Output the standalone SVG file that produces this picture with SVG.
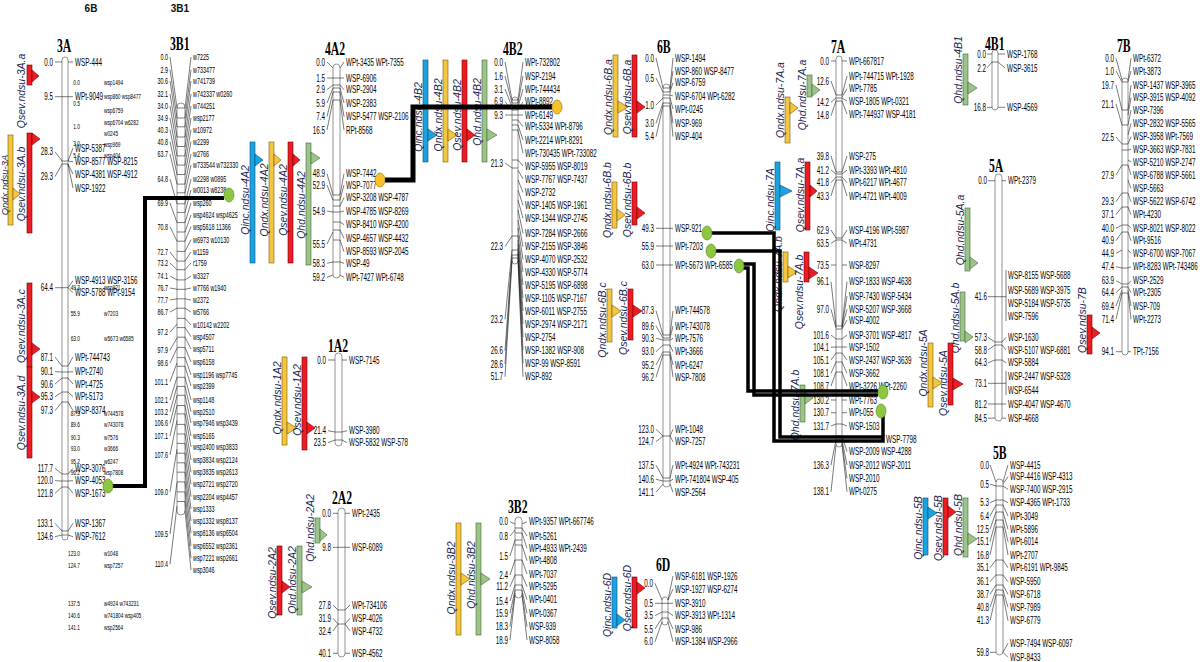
<svg xmlns="http://www.w3.org/2000/svg" width="1200" height="662" viewBox="0 0 1200 662">
<style>
.chr{fill:#fff;stroke:#777;stroke-width:.8}
.fan{fill:none;stroke:#222;stroke-width:.6}
.n text,.l text{font-family:"Liberation Sans",Arial,sans-serif;font-size:10.5px;fill:#000;dominant-baseline:central}
.n text{text-anchor:end}
.s text{font-size:9px}
.gh text{font-size:8px}
.ttl{font-family:"Liberation Serif","Times New Roman",serif;font-weight:bold;font-size:18px;fill:#000}
.top{font-family:"Liberation Sans",Arial,sans-serif;font-weight:bold;font-size:10px;fill:#111;text-anchor:middle}
.q{font-family:"Liberation Sans",Arial,sans-serif;font-style:italic;font-size:10.5px;fill:#1a2550;text-anchor:middle}
.r{fill:#ec1c24;stroke:#7a0000;stroke-width:.6}
.y{fill:#f4c542;stroke:#7a5a00;stroke-width:.6}
.b{fill:#1aa3e0;stroke:#0b4f75;stroke-width:.6}
.g{fill:#9dc38a;stroke:#3f6b30;stroke-width:.6}
.con{fill:none;stroke:#000;stroke-width:4}
.dg{fill:#8dc63f;stroke:#5a8a26;stroke-width:.6}
.dy{fill:#f7c12c;stroke:#9a7000;stroke-width:.6}
</style>
<rect width="1200" height="662" fill="#fff"/>
<text class="top" x="91" y="12">6B</text>
<text class="top" x="180" y="12">3B1</text>

<g id="chr-3A">
<text class="ttl" transform="translate(57 52) scale(.65 1)">3A</text>
<rect class="chr" x="62" y="57" width="6" height="483" rx="3"/>
<path class="fan" d="M55 62H62M55 96.7H62M55 151.7L62 161M55 176.7L62 164M55 287.7H62M55 357L62 366M55 371.7L62 372M55 384L62 378M55 396.7L62 392M55 410.7L62 402M55 468.3L62 474M55 480.7L62 481M55 493.3L62 487M55 523.3L62 531M55 536.7L62 535M68 62H73M68 96.7H73M68 161L73 148M68 161L73 161.7M68 164L73 174M68 164L73 188M68 287.7L73 280.7M68 287.7L73 292.7M68 366L73 357M68 372L73 371.7M68 378L73 384M68 392L73 396.7M68 402L73 410.7M68 474L73 468.3M68 481L73 480.7M68 487L73 493.3M68 531L73 523.3M68 535L73 536.7M62 96.7H68M62 161H68M62 164H68M62 287.7H68M62 366H68M62 372H68M62 378H68M62 392H68M62 402H68M62 474H68M62 481H68M62 487H68M62 531H68M62 535H68"/>
<g class="n" transform="translate(53 0) scale(.6 1)"><text y="62">0.0</text><text y="96.7">9.5</text><text y="151.7">28.3</text><text y="176.7">29.3</text><text y="287.7">64.4</text><text y="357">87.1</text><text y="371.7">90.1</text><text y="384">90.6</text><text y="396.7">95.3</text><text y="410.7">97.3</text><text y="468.3">117.7</text><text y="480.7">120.0</text><text y="493.3">121.8</text><text y="523.3">133.1</text><text y="536.7">134.6</text></g>
<g class="l" transform="translate(75 0) scale(.6 1)"><text y="62">WSP-444</text><text y="96.7">WPt-9049</text><text y="148">WSP-5387</text><text y="161.7">WSP-8577 WSP-8215</text><text y="174">WSP-4381 WSP-4912</text><text y="188">WSP-1922</text><text y="280.7">WSP-4913 WSP-3156</text><text y="292.7">WSP-5788 WPt-9154</text><text y="357">WPt-744743</text><text y="371.7">WPt-2740</text><text y="384">WPt-4725</text><text y="396.7">WPt-5173</text><text y="410.7">WSP-8374</text><text y="468.3">WSP-3076</text><text y="480.7">WSP-4053</text><text y="493.3">WSP-1673</text><text y="523.3">WSP-1367</text><text y="536.7">WSP-7612</text></g>
<g class="n gh" transform="translate(80 0) scale(.6 1)"><text y="82">0.0</text><text y="103">0.5</text><text y="126">1.0</text><text y="143">3.0</text><text y="155">5.4</text><text y="287">49.3</text><text y="313">55.9</text><text y="338">63.0</text><text y="413">87.3</text><text y="424">89.6</text><text y="437">90.3</text><text y="448">93.0</text><text y="461">95.2</text><text y="472">96.2</text><text y="553">123.0</text><text y="565">124.7</text><text y="603">137.5</text><text y="615">140.6</text><text y="627">141.1</text></g>
<g class="l gh" transform="translate(104 0) scale(.6 1)"><text y="82">wsp1494</text><text y="96">wsp860 wsp8477</text><text y="110">wsp6759</text><text y="122">wsp6704 w6282</text><text y="133">w0245</text><text y="144">wsp969</text><text y="155">wsp404</text><text y="287">wsp921</text><text y="313">w7203</text><text y="338">w5673 w6585</text><text y="413">w744578</text><text y="424">w743078</text><text y="437">w7576</text><text y="448">w3666</text><text y="461">w6247</text><text y="472">wsp7808</text><text y="553">w1048</text><text y="565">wsp7257</text><text y="603">w4924 w743231</text><text y="615">w741804 wsp405</text><text y="627">wsp2564</text></g>
</g>

<g id="chr-3B1">
<text class="ttl" transform="translate(170 50) scale(.65 1)">3B1</text>
<rect class="chr" x="177" y="103" width="8" height="412" rx="4"/>
<path class="fan" d="M170 57L177 108M170 69.7L177 118M170 81L177 126.8M170 94L177 137M170 106L177 146.5M170 118L177 155.9M170 129.7L177 165.1M170 141.7L177 174.5M170 154L177 184.1M170 179L177 203.8M170 203L177 222.6M170 226.7L177 241.2M170 252L177 261.1M170 263L177 269.7M170 276L177 279.9M170 288L177 289.3M170 300L177 298.8M170 312L177 308.2M170 332.3L177 324.1M170 350L177 338M170 363L177 348.2M170 381.7L177 362.9M170 400L177 377.3M170 411.7L177 386.4M170 423.3L177 395.6M170 436L177 405.5M170 455L177 420.4M170 491.7L177 449.2M170 534L177 482.4M170 564.3L177 506.2M185 108L191 57M185 118L191 69.7M185 126.8L191 81M185 137L191 94M185 146.5L191 106M185 155.9L191 118M185 165.1L191 129.7M185 174.5L191 141.7M185 184.1L191 154M185 192.8L191 165M185 203.8L191 179M185 212.4L191 190M185 222.6L191 203M185 232L191 215M185 241.2L191 226.7M185 251.4L191 239.7M185 261.1L191 252M185 269.7L191 263M185 279.9L191 276M185 289.3L191 288M185 298.8L191 300M185 308.2L191 312M185 318.4L191 325M185 327.6L191 336.7M185 337.2L191 349M185 347.4L191 362M185 357.6L191 375M185 366.3L191 386M185 377.3L191 400M185 386.4L191 411.7M185 395.3L191 423M185 405.5L191 436M185 413.9L191 446.7M185 424.4L191 460M185 434L191 472.3M185 443.4L191 484.3M185 453.2L191 496.7M185 462.8L191 509M185 472.2L191 521M185 481.9L191 533.3M185 491.9L191 546M185 501.5L191 558.3M185 510.7L191 570M177 108H185M177 118H185M177 126.8H185M177 137H185M177 146.5H185M177 155.9H185M177 165.1H185M177 174.5H185M177 184.1H185M177 192.8H185M177 203.8H185M177 212.4H185M177 222.6H185M177 232H185M177 241.2H185M177 251.4H185M177 261.1H185M177 269.7H185M177 279.9H185M177 289.3H185M177 298.8H185M177 308.2H185M177 318.4H185M177 327.6H185M177 337.2H185M177 347.4H185M177 357.6H185M177 366.3H185M177 377.3H185M177 386.4H185M177 395.3H185M177 405.5H185M177 413.9H185M177 424.4H185M177 434H185M177 443.4H185M177 453.2H185M177 462.8H185M177 472.2H185M177 481.9H185M177 491.9H185M177 501.5H185"/>
<g class="n s" transform="translate(168 0) scale(.6 1)"><text y="57">0.0</text><text y="69.7">2.9</text><text y="81">30.6</text><text y="94">32.1</text><text y="106">34.0</text><text y="118">34.9</text><text y="129.7">40.3</text><text y="141.7">40.8</text><text y="154">63.7</text><text y="179">64.8</text><text y="203">69.9</text><text y="226.7">70.8</text><text y="252">72.7</text><text y="263">73.2</text><text y="276">74.1</text><text y="288">76.7</text><text y="300">77.7</text><text y="312">86.7</text><text y="332.3">97.2</text><text y="350">97.9</text><text y="363">98.6</text><text y="381.7">101.1</text><text y="400">102.1</text><text y="411.7">103.2</text><text y="423.3">106.6</text><text y="436">107.1</text><text y="455">107.6</text><text y="491.7">109.0</text><text y="534">109.5</text><text y="564.3">110.4</text></g>
<g class="l s" transform="translate(193 0) scale(.6 1)"><text y="57">w7225</text><text y="69.7">w733477</text><text y="81">w741739</text><text y="94">w742337 w0260</text><text y="106">w744251</text><text y="118">wsp2177</text><text y="129.7">w10972</text><text y="141.7">w2299</text><text y="154">w2766</text><text y="165">w733544 w732330</text><text y="179">w2298 w0895</text><text y="190">w0013 w8238</text><text y="203">wsp260</text><text y="215">wsp4624 wsp4625</text><text y="226.7">wsp5618 11366</text><text y="239.7">w6973 w10130</text><text y="252">w1159</text><text y="263">r1759</text><text y="276">w3327</text><text y="288">w7766 w1940</text><text y="300">w2372</text><text y="312">w5766</text><text y="325">w10142 w2202</text><text y="336.7">wsp4507</text><text y="349">wsp5711</text><text y="362">wsp6158</text><text y="375">wsp1196 wsp7745</text><text y="386">wsp2399</text><text y="400">wsp1148</text><text y="411.7">wsp2510</text><text y="423">wsp7946 wsp3439</text><text y="436">wsp5165</text><text y="446.7">wsp2400 wsp3833</text><text y="460">wsp3834 wsp2124</text><text y="472.3">wsp3835 wsp2613</text><text y="484.3">wsp2721 wsp2720</text><text y="496.7">wsp2204 wsp4457</text><text y="509">wsp1333</text><text y="521">wsp1332 wsp8137</text><text y="533.3">wsp8136 wsp6504</text><text y="546">wsp6552 wsp2361</text><text y="558.3">wsp7221 wsp2661</text><text y="570">wsp3046</text></g>
</g>

<g id="chr-4A2">
<text class="ttl" transform="translate(325 55) scale(.65 1)">4A2</text>
<rect class="chr" x="333" y="64" width="7" height="214" rx="3.5"/>
<path class="fan" d="M327 62L333 68M327 78H333M327 89.7L333 85M327 103L333 88M327 116.7L333 92M327 130L333 100M327 173.7L333 195M327 185L333 200M327 211L333 212M327 244L333 232M327 263.3L333 262M327 277.3L333 275M340 68L344 62M340 78H344M340 85L344 89.7M340 88L344 103M340 92L344 116.7M340 100L344 130M340 195L344 173.7M340 200L344 185M340 206L344 197.7M340 212L344 211M340 222L344 224.7M340 230L344 238.3M340 240L344 251.7M340 262L344 263.3M340 275L344 277.3M333 78H340M333 85H340M333 88H340M333 92H340M333 100H340M333 195H340M333 200H340M333 206H340M333 212H340M333 222H340M333 230H340M333 240H340M333 262H340"/>
<g class="n" transform="translate(325 0) scale(.6 1)"><text y="62">0.0</text><text y="78">1.5</text><text y="89.7">2.9</text><text y="103">5.9</text><text y="116.7">7.4</text><text y="130">16.5</text><text y="173.7">48.9</text><text y="185">52.9</text><text y="211">54.9</text><text y="244">55.5</text><text y="263.3">58.3</text><text y="277.3">59.2</text></g>
<g class="l" transform="translate(346 0) scale(.6 1)"><text y="62">WPt-3435 WPt-7355</text><text y="78">WSP-6906</text><text y="89.7">WSP-2904</text><text y="103">WSP-2383</text><text y="116.7">WSP-5477 WSP-2106</text><text y="130">RPt-8568</text><text y="173.7">WSP-7442</text><text y="185">WSP-7077</text><text y="197.7">WSP-3208 WSP-4787</text><text y="211">WSP-4785 WSP-8269</text><text y="224.7">WSP-8410 WSP-4200</text><text y="238.3">WSP-4657 WSP-4432</text><text y="251.7">WSP-8593 WSP-2045</text><text y="263.3">WSP-49</text><text y="277.3">WPt-7427 WPt-6748</text></g>
</g>

<g id="chr-4B2">
<text class="ttl" transform="translate(503 55) scale(.65 1)">4B2</text>
<rect class="chr" x="512" y="97" width="6" height="167" rx="3"/>
<path class="fan" d="M505 62L512 100M505 76L512 103M505 89L512 107M505 101.7L512 110M505 115H512M505 163L512 168M505 246.7L512 236M505 319.3L512 250M505 350.7L512 255M505 364L512 258M505 376.7L512 261M518 100L523 62M518 103L523 76M518 107L523 89M518 110L523 101.7M518 115H523M518 120L523 126.7M518 125L523 140M518 130L523 153.3M518 160L523 166M518 170L523 179M518 180L523 192.3M518 190L523 205.3M518 200L523 218.3M518 210L523 233.3M518 220L523 246.7M518 228L523 259.3M518 235L523 272M518 240L523 285M518 244L523 298M518 248L523 311M518 251L523 324M518 253L523 337M518 255L523 350M518 258L523 363.3M518 261L523 376.7M512 100H518M512 103H518M512 107H518M512 110H518M512 115H518M512 120H518M512 125H518M512 130H518M512 160H518M512 168H518M512 236H518M512 250H518M512 255H518M512 258H518"/>
<g class="n" transform="translate(503 0) scale(.6 1)"><text y="62">0.0</text><text y="76">1.6</text><text y="89">3.1</text><text y="101.7">6.9</text><text y="115">9.3</text><text y="163">21.3</text><text y="246.7">22.3</text><text y="319.3">23.2</text><text y="350.7">26.6</text><text y="364">28.6</text><text y="376.7">51.7</text></g>
<g class="l" transform="translate(525 0) scale(.6 1)"><text y="62">WPt-732802</text><text y="76">WSP-2194</text><text y="89">WPt-744434</text><text y="101.7">WPt-8892</text><text y="115">WPt-6149</text><text y="126.7">WPt-5334 WPt-8796</text><text y="140">WPt-2214 WPt-8291</text><text y="153.3">WPt-730435 WPt-733082</text><text y="166">WSP-5955 WSP-8019</text><text y="179">WSP-7767 WSP-7437</text><text y="192.3">WSP-2732</text><text y="205.3">WSP-1405 WSP-1961</text><text y="218.3">WSP-1344 WSP-2745</text><text y="233.3">WSP-7284 WSP-2666</text><text y="246.7">WSP-2155 WSP-3846</text><text y="259.3">WSP-4070 WSP-2532</text><text y="272">WSP-4330 WSP-5774</text><text y="285">WSP-5195 WSP-6898</text><text y="298">WSP-1105 WSP-7167</text><text y="311">WSP-6011 WSP-2755</text><text y="324">WSP-2974 WSP-2171</text><text y="337">WSP-2754</text><text y="350">WSP-1382 WSP-908</text><text y="363.3">WSP-99 WSP-8591</text><text y="376.7">WSP-892</text></g>
</g>

<g id="chr-1A2">
<text class="ttl" transform="translate(328 352) scale(.65 1)">1A2</text>
<rect class="chr" x="335" y="353" width="7" height="93" rx="3.5"/>
<path class="fan" d="M328 360H335M328 430.7L335 432M328 442.7L335 440M342 360H347M342 432L347 430.7M342 440L347 442.7M335 432H342M335 440H342"/>
<g class="n" transform="translate(326 0) scale(.6 1)"><text y="360">0.0</text><text y="430.7">21.4</text><text y="442.7">23.5</text></g>
<g class="l" transform="translate(349 0) scale(.6 1)"><text y="360">WSP-7145</text><text y="430.7">WSP-3980</text><text y="442.7">WSP-5832 WSP-578</text></g>
</g>

<g id="chr-2A2">
<text class="ttl" transform="translate(332 504) scale(.65 1)">2A2</text>
<rect class="chr" x="338" y="508" width="7" height="149" rx="3.5"/>
<path class="fan" d="M333 513.3H338M333 547.3H338M333 605L338 610M333 618.3L338 624M333 631L338 624M333 653.3H338M345 513.3H350M345 547.3H350M345 610L350 605M345 624L350 618.3M345 624L350 631M345 653.3H350M338 547.3H345M338 610H345M338 624H345"/>
<g class="n" transform="translate(331 0) scale(.6 1)"><text y="513.3">0.0</text><text y="547.3">9.8</text><text y="605">27.8</text><text y="618.3">31.9</text><text y="631">32.4</text><text y="653.3">40.1</text></g>
<g class="l" transform="translate(352 0) scale(.6 1)"><text y="513.3">WPt-2435</text><text y="547.3">WSP-6089</text><text y="605">WPt-734106</text><text y="618.3">WSP-4026</text><text y="631">WSP-4732</text><text y="653.3">WSP-4562</text></g>
</g>

<g id="chr-3B2">
<text class="ttl" transform="translate(508 513) scale(.65 1)">3B2</text>
<rect class="chr" x="515" y="517" width="7" height="81" rx="3.5"/>
<path class="fan" d="M510 521.7L515 524M510 536L515 530M510 556L515 540M510 575L515 560M510 586.7L515 575M510 601L515 585M510 613.3L515 590M510 626.7L515 593M510 640L515 595M522 524L527 521.7M522 528L527 536M522 533L527 548.3M522 545L527 560.7M522 560L527 574M522 575L527 586.7M522 585L527 599.7M522 590L527 613.3M522 593L527 626.7M522 595L527 640M515 528H522M515 533H522M515 540H522M515 545H522M515 560H522M515 575H522M515 585H522M515 590H522"/>
<g class="n" transform="translate(508 0) scale(.6 1)"><text y="521.7">0.0</text><text y="536">0.8</text><text y="556">1.5</text><text y="575">2.4</text><text y="586.7">11.2</text><text y="601">15.4</text><text y="613.3">15.9</text><text y="626.7">18.3</text><text y="640">18.9</text></g>
<g class="l" transform="translate(529 0) scale(.6 1)"><text y="521.7">WPt-9357 WPt-667746</text><text y="536">WPt-5261</text><text y="548.3">WPt-4933 WPt-2439</text><text y="560.7">WPt-4808</text><text y="574">WPt-7037</text><text y="586.7">WPt-5295</text><text y="599.7">WPt-0401</text><text y="613.3">WPt-0367</text><text y="626.7">WSP-939</text><text y="640">WSP-8058</text></g>
</g>

<g id="chr-6B">
<text class="ttl" transform="translate(657 53) scale(.65 1)">6B</text>
<rect class="chr" x="663" y="84" width="7" height="403" rx="3.5"/>
<path class="fan" d="M656 58L663 88M656 78L663 92M656 105L663 98M656 123.3L663 103M656 136.7L663 106M656 228.3H663M656 246H663M656 265H663M656 310.7L663 335M656 326L663 338M656 338.3L663 340M656 351.7L663 345M656 365L663 352M656 377.3L663 355M656 429.3L663 436M656 441.7L663 436M656 465L663 478M656 479.3L663 481M656 492.3L663 484M670 88L673 58M670 90L673 71M670 92L673 82.7M670 95L673 96M670 98L673 109M670 103L673 123.3M670 106L673 136.7M670 228.3H673M670 246H673M670 265H673M670 335L673 310.7M670 338L673 326M670 340L673 338.3M670 345L673 351.7M670 352L673 365M670 355L673 377.3M670 436L673 429.3M670 436L673 441.7M670 478L673 465M670 481L673 479.3M670 484L673 492.3M663 88H670M663 92H670M663 95H670M663 98H670M663 103H670M663 106H670M663 228.3H670M663 246H670M663 265H670M663 335H670M663 338H670M663 340H670M663 345H670M663 352H670M663 355H670M663 436H670M663 478H670M663 481H670"/>
<g class="n" transform="translate(654 0) scale(.6 1)"><text y="58">0.0</text><text y="78">0.5</text><text y="105">1.0</text><text y="123.3">3.0</text><text y="136.7">5.4</text><text y="228.3">49.3</text><text y="246">55.9</text><text y="265">63.0</text><text y="310.7">87.3</text><text y="326">89.6</text><text y="338.3">90.3</text><text y="351.7">93.0</text><text y="365">95.2</text><text y="377.3">96.2</text><text y="429.3">123.0</text><text y="441.7">124.7</text><text y="465">137.5</text><text y="479.3">140.6</text><text y="492.3">141.1</text></g>
<g class="l" transform="translate(675 0) scale(.6 1)"><text y="58">WSP-1494</text><text y="71">WSP-860 WSP-8477</text><text y="82.7">WSP-6759</text><text y="96">WSP-6704 WPt-6282</text><text y="109">WPt-0245</text><text y="123.3">WSP-969</text><text y="136.7">WSP-404</text><text y="228.3">WSP-921</text><text y="246">WPt-7203</text><text y="265">WPt-5673 WPt-6585</text><text y="310.7">WPt-744578</text><text y="326">WPt-743078</text><text y="338.3">WPt-7576</text><text y="351.7">WPt-3666</text><text y="365">WPt-6247</text><text y="377.3">WSP-7808</text><text y="429.3">WPt-1048</text><text y="441.7">WSP-7257</text><text y="465">WPt-4924 WPt-743231</text><text y="479.3">WPt-741804 WSP-405</text><text y="492.3">WSP-2564</text></g>
</g>

<g id="chr-6D">
<text class="ttl" transform="translate(656 571) scale(.65 1)">6D</text>
<rect class="chr" x="662" y="597" width="6" height="28" rx="3"/>
<path class="fan" d="M655 583.3L662 600M655 603.3H662M655 615.7L662 612M655 629L662 618M655 641.7L662 622M668 600L673 576M668 600L673 589M668 603.3H673M668 612L673 615.7M668 618L673 629M668 622L673 641.7M662 603.3H668M662 612H668M662 618H668"/>
<g class="n" transform="translate(653 0) scale(.6 1)"><text y="583.3">0.0</text><text y="603.3">0.5</text><text y="615.7">3.5</text><text y="629">5.5</text><text y="641.7">6.0</text></g>
<g class="l" transform="translate(675 0) scale(.6 1)"><text y="576">WSP-6181 WSP-1926</text><text y="589">WSP-1927 WSP-6274</text><text y="603.3">WSP-3910</text><text y="615.7">WSP-3913 WPt-1314</text><text y="629">WSP-986</text><text y="641.7">WSP-1384 WSP-2966</text></g>
</g>

<g id="chr-7A">
<text class="ttl" transform="translate(831 53) scale(.65 1)">7A</text>
<rect class="chr" x="836" y="56" width="6" height="391" rx="3"/>
<path class="fan" d="M831 61H836M831 81L836 95M831 102.3L836 98M831 115.7L836 101M831 156L836 172M831 170L836 174M831 182.7L836 177M831 196L836 180M831 230L836 238M831 243.3L836 240M831 265H836M831 281.7L836 326M831 309.3L836 328M831 335L836 339M831 347.3L836 347M831 360L836 353M831 373.3L836 362M831 386L836 372M831 400H836M831 412.7H836M831 426L836 424M831 465L836 440M831 491.7L836 445M842 61H847M842 95L847 76M842 97L847 88.7M842 98L847 101M842 101L847 114M842 172L847 156M842 174L847 170M842 177L847 182.7M842 180L847 196M842 238L847 230M842 240L847 243.3M842 265H847M842 326L847 281.7M842 327L847 296M842 328L847 309.3M842 329L847 320M842 339L847 335M842 347H847M842 353L847 360M842 362L847 373.3M842 372L847 386M842 400H847M842 412.7H847M842 424L847 426M842 436L847 451.7M842 440L847 465M842 443L847 478.3M842 445L847 491.7M836 95H842M836 98H842M836 101H842M836 172H842M836 174H842M836 177H842M836 180H842M836 238H842M836 240H842M836 326H842M836 329H842M836 339H842M836 347H842M836 353H842M836 362H842M836 372H842M836 424H842M836 436H842M836 440H842"/>
<g class="n" transform="translate(829 0) scale(.6 1)"><text y="61">0.0</text><text y="81">12.6</text><text y="102.3">14.2</text><text y="115.7">14.8</text><text y="156">39.8</text><text y="170">41.2</text><text y="182.7">41.8</text><text y="196">43.3</text><text y="230">62.9</text><text y="243.3">63.5</text><text y="265">73.5</text><text y="281.7">96.1</text><text y="309.3">97.0</text><text y="335">101.6</text><text y="347.3">104.1</text><text y="360">105.1</text><text y="373.3">108.1</text><text y="386">108.7</text><text y="400">130.2</text><text y="412.7">130.7</text><text y="426">131.7</text><text y="465">136.3</text><text y="491.7">138.1</text></g>
<g class="l" transform="translate(849 0) scale(.6 1)"><text y="61">WPt-667817</text><text y="76">WPt-744715 WPt-1928</text><text y="88.7">WPt-7785</text><text y="101">WSP-1805 WPt-0321</text><text y="114">WPt-744937 WSP-4181</text><text y="156">WSP-275</text><text y="170">WPt-3393 WPt-4810</text><text y="182.7">WPt-6217 WPt-4677</text><text y="196">WPt-4721 WPt-4009</text><text y="230">WSP-4196 WPt-5987</text><text y="243.3">WPt-4731</text><text y="265">WSP-8297</text><text y="281.7">WSP-1833 WSP-4638</text><text y="296">WSP-7430 WSP-5434</text><text y="309.3">WSP-5207 WSP-3668</text><text y="320">WSP-4002</text><text y="335">WSP-3701 WSP-4817</text><text y="347.3">WSP-1502</text><text y="360">WSP-2437 WSP-3639</text><text y="373.3">WSP-3662</text><text y="386">WPt-3226 WPt-2260</text><text y="400">WPt-7763</text><text y="412.7">WPt-055</text><text y="426">WSP-1503</text><text y="451.7">WSP-2009 WSP-4288</text><text y="465">WSP-2012 WSP-2011</text><text y="478.3">WSP-2010</text><text y="491.7">WPt-0275</text></g>
<g class="l" transform="translate(886 0) scale(.6 1)"><text y="439.3">WSP-7798</text></g>
</g>

<g id="chr-4B1">
<text class="ttl" transform="translate(985 50) scale(.65 1)">4B1</text>
<rect class="chr" x="992" y="50" width="6" height="60" rx="3"/>
<path class="fan" d="M987 54H992M987 68L992 62M987 107.3H992M998 54H1005M998 62L1005 68M998 107.3H1005M992 62H998"/>
<g class="n" transform="translate(986 0) scale(.6 1)"><text y="54">0.0</text><text y="68">2.2</text><text y="107.3">16.8</text></g>
<g class="l" transform="translate(1007 0) scale(.6 1)"><text y="54">WSP-1768</text><text y="68">WSP-3615</text><text y="107.3">WSP-4569</text></g>
</g>

<g id="chr-5A">
<text class="ttl" transform="translate(989 172) scale(.65 1)">5A</text>
<rect class="chr" x="995" y="174" width="7" height="247" rx="3.5"/>
<path class="fan" d="M988 180.7H995M988 296.7H995M988 337.3L995 342M988 350L995 345M988 362.7L995 360M988 383.3H995M988 404H995M988 418.3L995 418M1002 180.7H1006M1002 296.7H1006M1002 342L1006 337.3M1002 345L1006 350M1002 360L1006 362.7M1002 383.3H1006M1002 404H1006M1002 418L1006 418.3M1006 270V321M1006 371V395M995 296.7H1002M995 342H1002M995 345H1002M995 360H1002M995 383.3H1002M995 404H1002"/>
<g class="n" transform="translate(987 0) scale(.6 1)"><text y="180.7">0.0</text><text y="296.7">41.6</text><text y="337.3">57.3</text><text y="350">58.8</text><text y="362.7">64.3</text><text y="383.3">73.1</text><text y="404">81.2</text><text y="418.3">84.5</text></g>
<g class="l" transform="translate(1008 0) scale(.6 1)"><text y="180.7">WPt-2379</text><text y="275">WSP-8155 WSP-5688</text><text y="290">WSP-5689 WSP-3975</text><text y="303.3">WSP-5184 WSP-5735</text><text y="316">WSP-7596</text><text y="337.3">WSP-1630</text><text y="350">WSP-5107 WSP-6881</text><text y="362.7">WSP-5884</text><text y="376.7">WSP-2447 WSP-5328</text><text y="390">WSP-6544</text><text y="404">WSP-4047 WSP-4670</text><text y="418.3">WSP-4668</text></g>
</g>

<g id="chr-7B">
<text class="ttl" transform="translate(1117 52) scale(.65 1)">7B</text>
<rect class="chr" x="1122" y="78" width="6" height="277" rx="3"/>
<path class="fan" d="M1116 58.3L1122 80M1116 71L1122 82M1116 85L1122 110M1116 104L1122 125M1116 137L1122 144M1116 175L1122 165M1116 201.7L1122 193M1116 214.7L1122 207M1116 228.3L1122 225M1116 240.7L1122 232M1116 253.3L1122 250M1116 266.7L1122 268M1116 280.7L1122 284M1116 292.7L1122 287M1116 306L1122 290M1116 319.3L1122 293M1116 351.7H1122M1128 80L1131 58.3M1128 82L1131 71M1128 110L1131 85M1128 115L1131 97.7M1128 125L1131 110M1128 135L1131 123.3M1128 144L1131 136.7M1128 150L1131 149.3M1128 160L1131 162M1128 165L1131 175M1128 180L1131 188.3M1128 193L1131 201.7M1128 207L1131 214.7M1128 225L1131 228.3M1128 232L1131 240.7M1128 250L1131 253.3M1128 268L1131 266.7M1128 284L1131 280.7M1128 287L1131 292.7M1128 290L1131 306M1128 293L1131 319.3M1128 351.7H1131M1122 82H1128M1122 110H1128M1122 125H1128M1122 144H1128M1122 150H1128M1122 165H1128M1122 193H1128M1122 207H1128M1122 225H1128M1122 232H1128M1122 268H1128M1122 284H1128M1122 287H1128M1122 293H1128"/>
<g class="n" transform="translate(1114 0) scale(.6 1)"><text y="58.3">0.0</text><text y="71">1.0</text><text y="85">19.7</text><text y="104">21.1</text><text y="137">22.5</text><text y="175">27.9</text><text y="201.7">29.3</text><text y="214.7">37.1</text><text y="228.3">40.0</text><text y="240.7">40.9</text><text y="253.3">44.9</text><text y="266.7">47.4</text><text y="280.7">63.9</text><text y="292.7">64.4</text><text y="306">69.4</text><text y="319.3">71.4</text><text y="351.7">94.1</text></g>
<g class="l" transform="translate(1133 0) scale(.6 1)"><text y="58.3">WPt-6372</text><text y="71">WPt-3873</text><text y="85">WSP-1437 WSP-3965</text><text y="97.7">WSP-3915 WSP-4092</text><text y="110">WSP-7396</text><text y="123.3">WSP-2832 WSP-5565</text><text y="136.7">WSP-3958 WPt-7569</text><text y="149.3">WSP-3663 WSP-7831</text><text y="162">WSP-5210 WSP-2747</text><text y="175">WSP-6788 WSP-5661</text><text y="188.3">WSP-5663</text><text y="201.7">WSP-5622 WSP-6742</text><text y="214.7">WPt-4230</text><text y="228.3">WSP-8021 WSP-8022</text><text y="240.7">WPt-9516</text><text y="253.3">WSP-6700 WSP-7067</text><text y="266.7">WPt-8283 WPt-743486</text><text y="280.7">WSP-2529</text><text y="292.7">WPt-2305</text><text y="306">WSP-709</text><text y="319.3">WPt-2273</text><text y="351.7">TPt-7156</text></g>
</g>

<g id="chr-5B">
<text class="ttl" transform="translate(993 459) scale(.65 1)">5B</text>
<rect class="chr" x="996" y="479" width="7" height="176" rx="3.5"/>
<path class="fan" d="M990 465L996 482M990 484L996 486M990 502.7L996 500M990 516L996 505M990 529.3L996 512M990 541.7L996 520M990 555L996 527M990 567.7L996 560M990 581.7L996 575M990 594.3L996 585M990 607.3L996 590M990 620.7L996 595M990 652.3H996M1003 482L1008 465M1003 484L1008 476.7M1003 486L1008 489.3M1003 500L1008 502.7M1003 505L1008 516M1003 512L1008 529.3M1003 520L1008 541.7M1003 527L1008 555M1003 560L1008 567.7M1003 575L1008 581.7M1003 585L1008 594.3M1003 590L1008 607.3M1003 595L1008 620.7M1003 652.3L1008 643.3M1003 652.3L1008 657.3M996 486H1003M996 500H1003M996 505H1003M996 512H1003M996 520H1003M996 527H1003M996 560H1003M996 575H1003M996 585H1003M996 590H1003M996 595H1003"/>
<g class="n" transform="translate(989 0) scale(.6 1)"><text y="465">0.0</text><text y="484">0.5</text><text y="502.7">5.3</text><text y="516">6.4</text><text y="529.3">12.5</text><text y="541.7">15.1</text><text y="555">16.8</text><text y="567.7">35.1</text><text y="581.7">36.1</text><text y="594.3">38.7</text><text y="607.3">40.8</text><text y="620.7">41.3</text><text y="652.3">59.8</text></g>
<g class="l" transform="translate(1010 0) scale(.6 1)"><text y="465">WSP-4415</text><text y="476.7">WSP-4416 WSP-4313</text><text y="489.3">WSP-7400 WSP-2915</text><text y="502.7">WSP-4365 WPt-1733</text><text y="516">WPt-3049</text><text y="529.3">WPt-5896</text><text y="541.7">WPt-6014</text><text y="555">WPt-2707</text><text y="567.7">WPt-6191 WPt-9845</text><text y="581.7">WSP-5950</text><text y="594.3">WSP-6718</text><text y="607.3">WSP-7989</text><text y="620.7">WSP-6779</text><text y="643.3">WSP-7494 WSP-6097</text><text y="657.3">WSP-8433</text></g>
</g>

<g id="qtl">
<g id="q-3A-a"><rect class="r" x="27" y="65" width="5" height="20"/><polygon class="r" points="32,70 39,76 32,82"/><text class="q" transform="translate(25 91) rotate(-90)">Qsev.ndsu-3A.a</text></g>
<g id="q-3A-b"><rect class="r" x="27" y="133" width="5" height="100"/><polygon class="r" points="32,133 40,139 32,145"/><text class="q" transform="translate(25 184) rotate(-90)">Qsev.ndsu-3A.b</text></g>
<g id="q-3A-ndx"><rect class="y" x="8" y="135" width="5" height="90"/><polygon class="y" points="13,188 20,194 13,200"/><text class="q" style="font-size:9.5px" transform="translate(7.5 185) rotate(-90)">Qndx.ndsu-3A</text></g>
<g id="q-3A-c"><rect class="r" x="27" y="283" width="5" height="84"/><polygon class="r" points="32,343 40,349 32,355"/><text class="q" transform="translate(25 326) rotate(-90)">Qsev.ndsu-3A.c</text></g>
<g id="q-3A-d"><rect class="r" x="27" y="367" width="5" height="91"/><polygon class="r" points="32,391 40,397 32,403"/><text class="q" transform="translate(25 413) rotate(-90)">Qsev.ndsu-3A.d</text></g>
<g id="q-4A2-inc"><rect class="b" x="250" y="142" width="5" height="121"/><polygon class="b" points="255,154 263,160 255,166"/><text class="q" transform="translate(248.5 200) rotate(-90)">Qinc.ndsu-4A2</text></g>
<g id="q-4A2-ndx"><rect class="y" x="269" y="142" width="5" height="121"/><polygon class="y" points="274,154 281,160 274,166"/><text class="q" transform="translate(267.5 200) rotate(-90)">Qndx.ndsu-4A2</text></g>
<g id="q-4A2-sev"><rect class="r" x="288" y="142" width="5" height="121"/><polygon class="r" points="293,154 300,160 293,166"/><text class="q" transform="translate(286.5 200) rotate(-90)">Qsev.ndsu-4A2</text></g>
<g id="q-4A2-hd"><rect class="g" x="306" y="143" width="5" height="122"/><polygon class="g" points="311,152 320,158 311,164"/><text class="q" transform="translate(304.5 205) rotate(-90)">Qhd.ndsu-4A2</text></g>
<g id="q-4B2-inc"><rect class="b" x="423" y="60" width="5" height="102"/><polygon class="b" points="428,129 437,135 428,141"/><text class="q" transform="translate(421.5 117) rotate(-90)">Qinc.ndsu-4B2</text></g>
<g id="q-4B2-ndx"><rect class="y" x="443" y="60" width="5" height="102"/><polygon class="y" points="448,129 457,135 448,141"/><text class="q" transform="translate(441.5 115) rotate(-90)">Qndx.ndsu-4B2</text></g>
<g id="q-4B2-sev"><rect class="r" x="462" y="60" width="5" height="102"/><polygon class="r" points="467,129 475,135 467,141"/><text class="q" transform="translate(460.5 115) rotate(-90)">Qsev.ndsu-4B2</text></g>
<g id="q-4B2-hd"><rect class="g" x="482" y="60" width="5" height="102"/><polygon class="g" points="487,129 497,135 487,141"/><text class="q" transform="translate(480.5 112) rotate(-90)">Qhd.ndsu-4B2</text></g>
<g id="q-1A2-ndx"><rect class="y" x="282" y="357" width="5" height="88"/><polygon class="y" points="287,422 297,428 287,434"/><text class="q" transform="translate(280.5 398) rotate(-90)">Qndx.ndsu-1A2</text></g>
<g id="q-1A2-sev"><rect class="r" x="302" y="357" width="5" height="93"/><polygon class="r" points="307,422 315,428 307,434"/><text class="q" transform="translate(300.5 400) rotate(-90)">Qsev.ndsu-1A2</text></g>
<g id="q-2A2-hd-a"><rect class="g" x="315" y="518" width="5" height="25"/><polygon class="g" points="320,529 327,535 320,541"/><text class="q" transform="translate(313.5 528) rotate(-90)">Qhd.ndsu-2A2</text></g>
<g id="q-2A2-sev"><rect class="r" x="277" y="546" width="5" height="69"/><polygon class="r" points="282,581 290,587 282,593"/><text class="q" transform="translate(275.5 583) rotate(-90)">Qsev.ndsu-2A2</text></g>
<g id="q-2A2-hd-b"><rect class="g" x="297" y="546" width="5" height="69"/><polygon class="g" points="302,581 312,587 302,593"/><text class="q" transform="translate(295.5 580) rotate(-90)">Qhd.ndsu-2A2</text></g>
<g id="q-3B2-ndx"><rect class="y" x="456" y="523" width="5" height="112"/><polygon class="y" points="461,573 470,579 461,585"/><text class="q" transform="translate(454.5 578) rotate(-90)">Qndx.ndsu-3B2</text></g>
<g id="q-3B2-hd"><rect class="g" x="476" y="523" width="5" height="112"/><polygon class="g" points="481,573 490,579 481,585"/><text class="q" transform="translate(474.5 575) rotate(-90)">Qhd.ndsu-3B2</text></g>
<g id="q-6B-ndx-a"><rect class="y" x="613" y="55" width="5" height="82"/><polygon class="y" points="618,101 628,107 618,113"/><text class="q" transform="translate(611.5 97) rotate(-90)">Qndx.ndsu-6B.a</text></g>
<g id="q-6B-sev-a"><rect class="r" x="632" y="55" width="5" height="82"/><polygon class="r" points="637,101 645,107 637,113"/><text class="q" transform="translate(630.5 97) rotate(-90)">Qsev.ndsu-6B.a</text></g>
<g id="q-6B-ndx-b"><rect class="y" x="612" y="182" width="5" height="46"/><polygon class="y" points="617,209 625,215 617,221"/><text class="q" transform="translate(610.5 200) rotate(-90)">Qndx.ndsu-6B.b</text></g>
<g id="q-6B-sev-b"><rect class="r" x="632" y="182" width="5" height="43"/><polygon class="r" points="637,207 645,213 637,219"/><text class="q" transform="translate(630.5 200) rotate(-90)">Qsev.ndsu-6B.b</text></g>
<g id="q-6B-ndx-c"><rect class="y" x="607" y="289" width="5" height="53"/><polygon class="y" points="612,305 621,311 612,317"/><text class="q" transform="translate(605.5 320) rotate(-90)">Qndx.ndsu-6B.c</text></g>
<g id="q-6B-sev-c"><rect class="r" x="628" y="289" width="5" height="51"/><polygon class="r" points="633,305 642,311 633,317"/><text class="q" transform="translate(626.5 318) rotate(-90)">Qsev.ndsu-6B.c</text></g>
<g id="q-6D-inc"><rect class="b" x="612" y="577" width="5" height="51"/><polygon class="b" points="617,614 625,620 617,626"/><text class="q" transform="translate(610.5 605) rotate(-90)">Qinc.ndsu-6D</text></g>
<g id="q-6D-sev"><rect class="r" x="632" y="577" width="5" height="51"/><polygon class="r" points="637,582 645,588 637,594"/><text class="q" transform="translate(630.5 598) rotate(-90)">Qsev.ndsu-6D</text></g>
<g id="q-7A-hd-a"><rect class="g" x="807" y="75" width="5" height="22"/><polygon class="g" points="812,84 820,90 812,96"/><text class="q" transform="translate(805.5 95) rotate(-90)">Qhd.ndsu-7A.a</text></g>
<g id="q-7A-ndx-a"><rect class="y" x="785" y="97" width="5" height="46"/><polygon class="y" points="790,102 798,108 790,114"/><text class="q" transform="translate(783.5 100) rotate(-90)">Qndx.ndsu-7A.a</text></g>
<g id="q-7A-inc"><rect class="b" x="775" y="162" width="5" height="68"/><polygon class="b" points="780,185 792,191 780,197"/><text class="q" transform="translate(773.5 200) rotate(-90)">Qinc.ndsu-7A</text></g>
<g id="q-7A-sev-a"><rect class="r" x="805" y="162" width="5" height="68"/><polygon class="r" points="810,185 817,191 810,197"/><text class="q" transform="translate(803.5 195) rotate(-90)">Qsev.ndsu-7A.a</text></g>
<g id="q-7A-ndx-b"><rect class="y" x="783" y="252" width="5" height="30"/><polygon class="y" points="788,266 797,272 788,278"/><text class="q" transform="translate(781.5 274) rotate(-90)">Qndx.ndsu-7A.b</text></g>
<g id="q-7A-sev-b"><rect class="r" x="804" y="252" width="5" height="30"/><polygon class="r" points="809,267 818,273 809,279"/><text class="q" transform="translate(803 292) rotate(-90)">Qsev.ndsu-7A.b</text></g>
<g id="q-7A-hd-b"><rect class="g" x="800" y="385" width="5" height="37"/><polygon class="g" points="805,392 813,398 805,404"/><text class="q" transform="translate(798.5 405) rotate(-90)">Qhd.ndsu-7A.b</text></g>
<g id="q-4B1-hd"><rect class="g" x="963" y="54" width="5" height="51"/><polygon class="g" points="968,82 977,88 968,94"/><text class="q" transform="translate(961.5 70) rotate(-90)">Qhd.ndsu-4B1</text></g>
<g id="q-5A-hd-a"><rect class="g" x="965" y="208" width="5" height="63"/><polygon class="g" points="970,257 978,263 970,269"/><text class="q" transform="translate(963.5 230) rotate(-90)">Qhd.ndsu-5A.a</text></g>
<g id="q-5A-hd-b"><rect class="g" x="960" y="292" width="5" height="49"/><polygon class="g" points="965,331 973,337 965,343"/><text class="q" transform="translate(958.5 318) rotate(-90)">Qhd.ndsu-5A.b</text></g>
<g id="q-5A-ndx"><rect class="y" x="928" y="343" width="5" height="64"/><polygon class="y" points="933,377 942,383 933,389"/><text class="q" transform="translate(926.5 363) rotate(-90)">Qndx.ndsu-5A</text></g>
<g id="q-5A-sev"><rect class="r" x="948" y="343" width="5" height="62"/><polygon class="r" points="953,378 963,384 953,390"/><text class="q" transform="translate(946.5 383) rotate(-90)">Qsev.ndsu-5A</text></g>
<g id="q-7B-sev"><rect class="r" x="1087" y="315" width="5" height="39"/><polygon class="r" points="1092,327 1100,333 1092,339"/><text class="q" transform="translate(1085.5 320) rotate(-90)">Qsev.ndsu-7B</text></g>
<g id="q-5B-inc"><rect class="b" x="923" y="498" width="5" height="57"/><polygon class="b" points="928,507 937,513 928,519"/><text class="q" transform="translate(921.5 528) rotate(-90)">Qinc.ndsu-5B</text></g>
<g id="q-5B-sev"><rect class="r" x="943" y="498" width="5" height="57"/><polygon class="r" points="948,506 956,512 948,518"/><text class="q" transform="translate(941.5 528) rotate(-90)">Qsev.ndsu-5B</text></g>
<g id="q-5B-hd"><rect class="g" x="963" y="498" width="5" height="59"/><polygon class="g" points="968,533 977,539 968,545"/><text class="q" transform="translate(961.5 525) rotate(-90)">Qhd.ndsu-5B</text></g>
</g>

<g id="connectors">
<path class="con" d="M112 486H145V198H224"/>
<path class="con" style="stroke-width:5" d="M385 180H413V107H552"/>
<path class="con" style="stroke-width:3.5" d="M711 233H774V441H883V415"/>
<path class="con" style="stroke-width:3.5" d="M714 251H780V437H883"/>
<path class="con" style="stroke-width:3.5" d="M742 264H754V395H878"/>
<path class="con" style="stroke-width:3.5" d="M742 268H748V391H878"/>
<ellipse class="dg" cx="108" cy="486" rx="5" ry="7"/>
<ellipse class="dg" cx="229" cy="195" rx="5" ry="7"/>
<ellipse class="dy" cx="380" cy="180" rx="5" ry="7"/>
<ellipse class="dy" cx="557" cy="107" rx="5" ry="7"/>
<ellipse class="dg" cx="707" cy="233" rx="5" ry="7"/>
<ellipse class="dg" cx="711" cy="251" rx="5" ry="7"/>
<ellipse class="dg" cx="739" cy="266" rx="5" ry="7"/>
<ellipse class="dg" cx="883" cy="392" rx="5" ry="7"/>
<ellipse class="dg" cx="881" cy="411" rx="5" ry="7"/>
</g>
</svg>
